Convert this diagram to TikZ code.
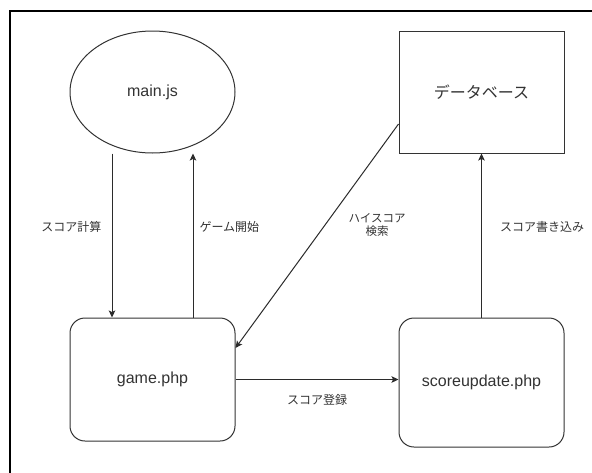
\documentclass[tikz,border=0pt]{standalone}
\usepackage{fontspec}
\setmainfont{Liberation Sans}
\newfontfamily\jp{Noto Sans CJK JP}
\usetikzlibrary{shapes.geometric, arrows.meta, positioning}
\definecolor{ink}{HTML}{333333}
\definecolor{edge}{HTML}{2B2B2B}

\begin{document}
\begin{tikzpicture}[
  x=1pt, y=-1pt,
  node distance=164pt and 163pt,
  blk/.style={draw=ink, line width=1pt, minimum width=165pt, text=ink,
              inner sep=0pt, font=\fontsize{16}{19}\selectfont},
  oval/.style={blk, ellipse, minimum height=122pt},
  store/.style={blk, rectangle, minimum height=122pt, font=\jp\fontsize{16}{19}\selectfont},
  proc/.style={blk, rectangle, rounded corners=15pt, minimum height=123pt},
  arr/.style={-{Stealth[length=7pt, width=6.5pt, inset=1.5pt]}, draw=edge, line width=1pt},
  lbl/.style={font=\jp\fontsize{12}{14}\selectfont, text=ink, inner sep=0pt},
]
\useasboundingbox (0,0) rectangle (592,472);
\fill[white] (0,0) rectangle (592,472);
\begin{scope}
  \clip (0,0) rectangle (592,472);
  \draw[black, line width=1.3pt] (10,11) rectangle (620,500);
\end{scope}

\node[oval] (main) at (152.5,92) {main.js};
\node[store, right=of main] (db) {データベース};
\node[proc, below=of main] (game) {game.php};
\node[proc, below=of db, minimum height=129pt] (upd) {scoreupdate.php};

\draw[arr] ([xshift=-40.5pt]main.south) -- ([xshift=-40.5pt]game.north)
  node[lbl, pos=0.45, left=10pt] {スコア計算};
\draw[arr] ([xshift=40.5pt]game.north) -- ([xshift=40.5pt]main.south)
  node[lbl, pos=0.55, right=6pt] {ゲーム開始};
\draw[arr] ([yshift=-32pt]db.west) -- ([yshift=31.5pt]game.east)
  node[lbl, pos=0.45, xshift=52pt, align=center,
       font=\jp\fontsize{11.5}{13}\selectfont] {ハイスコア\\検索};
\draw[arr] (game.east) -- (game.east -| upd.west)
  node[lbl, midway, below=14pt] {スコア登録};
\draw[arr] (upd.north) -- (db.south)
  node[lbl, pos=0.55, right=18pt] {スコア書き込み};
\end{tikzpicture}
\end{document}
